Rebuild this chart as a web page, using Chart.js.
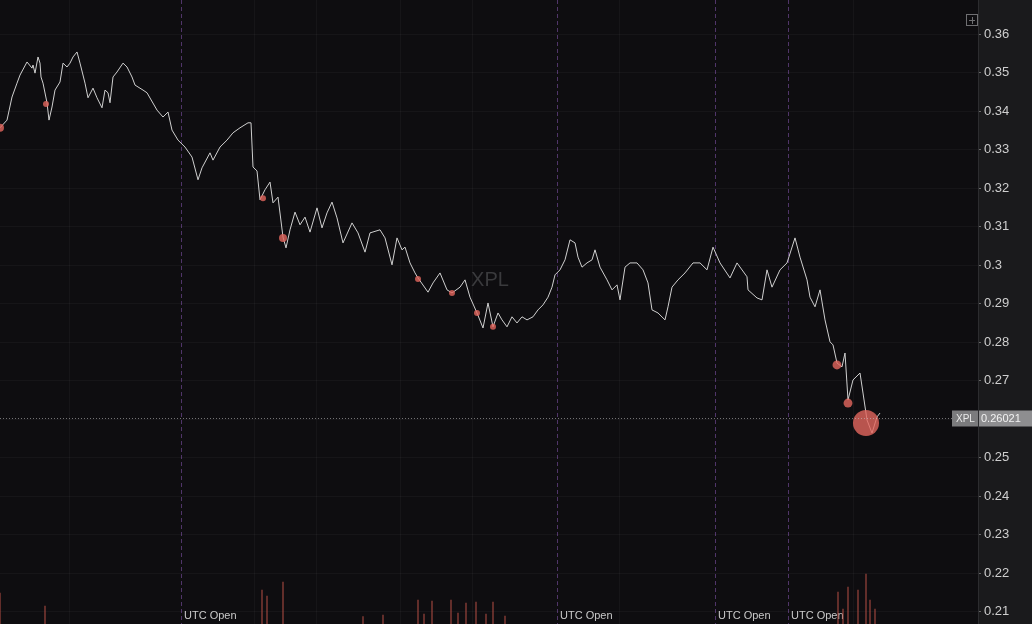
<!DOCTYPE html>
<html>
<head>
<meta charset="utf-8">
<title>XPL</title>
<script src="https://cdn.jsdelivr.net/npm/chart.js@4.4.1/dist/chart.umd.min.js"></script>
<style>
  html, body { margin: 0; padding: 0; background: #0e0d10; }
  #wrap { width: 1032px; height: 624px; }
</style>
</head>
<body>
<div id="wrap"><canvas id="chart"></canvas></div>
<script>
// XPL price chart — thin tick line, trade bubbles, volume spikes
const SYMBOL = 'XPL';
const LAST_PRICE = 0.26021;

// bar index of each price sample
const bars = [
  0, 7, 12, 17, 20, 27, 32, 33, 35, 38, 40, 41, 43, 47, 49, 52, 55, 60, 63, 67,
  70, 73, 77, 80, 85, 88, 93, 97, 102, 105, 108, 110, 113, 117, 123, 127, 132, 135, 143, 147,
  157, 163, 168, 172, 178, 185, 192, 198, 202, 210, 213, 220, 227, 233, 240, 248, 251, 253, 257, 260,
  265, 270, 273, 278, 283, 286, 290, 295, 300, 305, 310, 317, 322, 327, 332, 337, 343, 352, 358, 365,
  370, 380, 385, 392, 397, 402, 405, 410, 415, 418, 428, 433, 440, 447, 452, 460, 465, 470, 477, 483,
  488, 493, 498, 502, 507, 512, 517, 522, 527, 533, 538, 543, 548, 552, 555, 560, 565, 570, 575, 578,
  582, 587, 592, 595, 600, 607, 612, 617, 620, 625, 630, 637, 643, 648, 652, 658, 665, 668, 672, 678,
  685, 693, 700, 707, 713, 720, 730, 737, 747, 748, 757, 762, 767, 772, 780, 787, 795, 800, 807, 810,
  815, 820, 825, 830, 833, 837, 842, 845, 848, 853, 860, 863, 867, 872, 877, 880
];
const prices = [
  0.3357, 0.3377, 0.3437, 0.3473, 0.3494, 0.3528, 0.3512, 0.3520, 0.3499, 0.3541, 0.3525, 0.3489, 0.3473, 0.3422, 0.3377, 0.3411, 0.3455, 0.3476, 0.3525, 0.3515,
  0.3525, 0.3541, 0.3554, 0.3525, 0.3473, 0.3435, 0.3460, 0.3435, 0.3409, 0.3455, 0.3448, 0.3422, 0.3489, 0.3502, 0.3525, 0.3515, 0.3489, 0.3468, 0.3455, 0.3448,
  0.3403, 0.3385, 0.3398, 0.3351, 0.3325, 0.3307, 0.3281, 0.3222, 0.3253, 0.3292, 0.3273, 0.3307, 0.3325, 0.3344, 0.3357, 0.3370, 0.3370, 0.3255, 0.3245, 0.3170,
  0.3196, 0.3216, 0.3162, 0.3177, 0.3073, 0.3045, 0.3092, 0.3138, 0.3105, 0.3125, 0.3086, 0.3149, 0.3097, 0.3136, 0.3164, 0.3123, 0.3058, 0.3110, 0.3084, 0.3034,
  0.3084, 0.3092, 0.3071, 0.3001, 0.3071, 0.3040, 0.3047, 0.3006, 0.2980, 0.2967, 0.2930, 0.2954, 0.2980, 0.2936, 0.2928, 0.2943, 0.2962, 0.2917, 0.2876, 0.2837,
  0.2902, 0.2840, 0.2876, 0.2858, 0.2840, 0.2866, 0.2850, 0.2866, 0.2858, 0.2866, 0.2884, 0.2897, 0.2917, 0.2943, 0.2975, 0.2988, 0.3014, 0.3066, 0.3058, 0.3021,
  0.2995, 0.3006, 0.3014, 0.3040, 0.2995, 0.2962, 0.2936, 0.2949, 0.2910, 0.2995, 0.3006, 0.3006, 0.2988, 0.2954, 0.2884, 0.2876, 0.2858, 0.2892, 0.2943, 0.2962,
  0.2980, 0.3006, 0.3006, 0.2988, 0.3047, 0.3006, 0.2967, 0.3006, 0.2970, 0.2936, 0.2915, 0.2910, 0.2988, 0.2943, 0.2988, 0.3006, 0.3071, 0.3021, 0.2962, 0.2917,
  0.2892, 0.2936, 0.2858, 0.2801, 0.2793, 0.2746, 0.2736, 0.2772, 0.2650, 0.2702, 0.2720, 0.2668, 0.2598, 0.2564, 0.2606, 0.2616
];

// executed trades
const tradeBars   = [0, 46, 263, 283, 418, 452, 477, 493, 837, 848, 866];
const tradePrices = [0.3357, 0.3419, 0.3174, 0.3071, 0.2964, 0.2928, 0.2876, 0.2840, 0.2741, 0.2642, 0.2590];
const tradeSizes  = [16, 9, 9, 16, 9, 9, 9, 9, 20, 20, 170];

// volume spikes
const volBars   = [0, 45, 262, 267, 283, 363, 383, 418, 424, 432, 451, 458, 466, 476, 486, 493, 505, 838, 843, 848, 858, 866, 870, 875];
const volValues = [6.2, 3.6, 6.8, 5.6, 8.4, 1.5, 1.8, 4.8, 2.0, 4.6, 4.8, 2.2, 4.2, 4.4, 2.0, 4.4, 1.6, 6.4, 3.0, 7.4, 6.8, 10.0, 4.8, 3.0];

const yTicks = [0.21, 0.22, 0.23, 0.24, 0.25, 0.26, 0.27, 0.28, 0.29, 0.30, 0.31, 0.32, 0.33, 0.34, 0.35, 0.36];
const gridBars = [69, 254, 316, 400, 472, 619, 853];
const utcOpenBars = [181, 557, 715, 788];

const FONT = "'Helvetica Neue', Helvetica, Arial, sans-serif";

const decor = {
  id: 'decor',
  beforeDraw(chart) {
    const { ctx, chartArea: a, width, height, scales: { x, y } } = chart;
    ctx.save();
    ctx.fillStyle = '#0e0d10';
    ctx.fillRect(0, 0, width, height);
    ctx.fillStyle = '#1a1a1c';
    ctx.fillRect(a.right, 0, width - a.right, height);

    ctx.lineWidth = 1;
    ctx.strokeStyle = 'rgba(255,255,255,0.035)';
    gridBars.forEach(b => {
      const px = Math.round(x.getPixelForValue(b)) + 0.5;
      ctx.beginPath(); ctx.moveTo(px, a.top); ctx.lineTo(px, a.bottom); ctx.stroke();
    });

    ctx.setLineDash([4, 3]);
    ctx.strokeStyle = 'rgba(125,80,165,0.6)';
    utcOpenBars.forEach(b => {
      const px = Math.round(x.getPixelForValue(b)) + 0.5;
      ctx.beginPath(); ctx.moveTo(px, a.top); ctx.lineTo(px, a.bottom); ctx.stroke();
    });
    ctx.setLineDash([]);

    ctx.font = '11px ' + FONT;
    ctx.fillStyle = '#c9c9c9';
    ctx.textBaseline = 'middle';
    ctx.textAlign = 'left';
    utcOpenBars.forEach(b => {
      ctx.fillText('UTC Open', x.getPixelForValue(b) + 3, a.bottom - 8);
    });

    // watermark
    ctx.font = '20px ' + FONT;
    ctx.fillStyle = '#3a3a3d';
    ctx.textAlign = 'center';
    ctx.fillText(SYMBOL, x.getPixelForValue(490), y.getPixelForValue(0.2960));
    ctx.restore();
  },
  afterDraw(chart) {
    const { ctx, chartArea: a, width, scales: { y } } = chart;
    ctx.save();
    // axis border
    ctx.strokeStyle = '#2c2c2f';
    ctx.beginPath(); ctx.moveTo(a.right + 0.5, 0); ctx.lineTo(a.right + 0.5, chart.height); ctx.stroke();

    // last price line and labels
    const py = Math.round(y.getPixelForValue(LAST_PRICE)) + 0.5;
    ctx.setLineDash([1, 2]);
    ctx.strokeStyle = 'rgba(200,200,200,0.55)';
    ctx.beginPath(); ctx.moveTo(a.left, py); ctx.lineTo(a.right, py); ctx.stroke();
    ctx.setLineDash([]);

    ctx.fillStyle = '#7b7b7d';
    ctx.fillRect(a.right - 26, py - 8, 26, 16);
    ctx.fillStyle = '#8e8e90';
    ctx.fillRect(a.right + 1, py - 8, width - a.right, 16);
    ctx.font = '10px ' + FONT;
    ctx.textBaseline = 'middle';
    ctx.textAlign = 'left';
    ctx.fillStyle = '#e8e8e8';
    ctx.fillText(SYMBOL, a.right - 22, py + 0.5);
    ctx.font = '11px ' + FONT;
    ctx.fillStyle = '#f2f2f2';
    ctx.fillText(String(LAST_PRICE), a.right + 3, py + 0.5);

    // plus icon
    ctx.strokeStyle = '#6f6f72';
    ctx.strokeRect(966.5, 14.5, 11, 11);
    ctx.beginPath();
    ctx.moveTo(969, 20.5); ctx.lineTo(975, 20.5);
    ctx.moveTo(972.5, 17); ctx.lineTo(972.5, 24);
    ctx.stroke();
    ctx.restore();
  }
};

new Chart(document.getElementById('chart'), {
  type: 'line',
  data: {
    datasets: [
      {
        type: 'bubble',
        order: 0,
        yAxisID: 'y',
        data: tradeBars.map((b, i) => ({ x: b, y: tradePrices[i], r: Math.sqrt(tradeSizes[i]) })),
        backgroundColor: 'rgba(228,102,94,0.8)',
        borderWidth: 0,
      },
      {
        type: 'line',
        order: 1,
        yAxisID: 'y',
        data: bars.map((b, i) => ({ x: b, y: prices[i] })),
        borderColor: '#cfcfcf',
        borderWidth: 1,
        pointRadius: 0,
        tension: 0,
      },
      {
        type: 'bar',
        order: 2,
        yAxisID: 'vol',
        data: volBars.map((b, i) => ({ x: b, y: volValues[i] })),
        backgroundColor: 'rgba(180,78,70,0.55)',
        barThickness: 1.2,
      }
    ]
  },
  options: {
    responsive: true,
    maintainAspectRatio: false,
    animation: false,
    layout: { padding: 0, autoPadding: false },
    plugins: { legend: { display: false }, tooltip: { enabled: false } },
    scales: {
      x: { type: 'linear', display: false, offset: false, min: 0, max: 978 },
      y: {
        position: 'right',
        min: 0.2068,
        max: 0.3689,
        afterBuildTicks: s => { s.ticks = yTicks.map(v => ({ value: v })); },
        afterFit: s => { s.width = 54; s.paddingTop = 0; s.paddingBottom = 0; },
        border: { display: false },
        grid: {
          color: 'rgba(255,255,255,0.035)',
          drawTicks: true,
          tickLength: 3,
          tickColor: 'rgba(200,200,200,0.45)',
        },
        ticks: {
          color: '#cfcfcf',
          padding: 3,
          font: { family: FONT, size: 13 },
          callback: v => String(Number(v.toFixed(2))),
        }
      },
      vol: { display: false, min: 0, max: 125 }
    }
  },
  plugins: [decor]
});
</script>
</body>
</html>
